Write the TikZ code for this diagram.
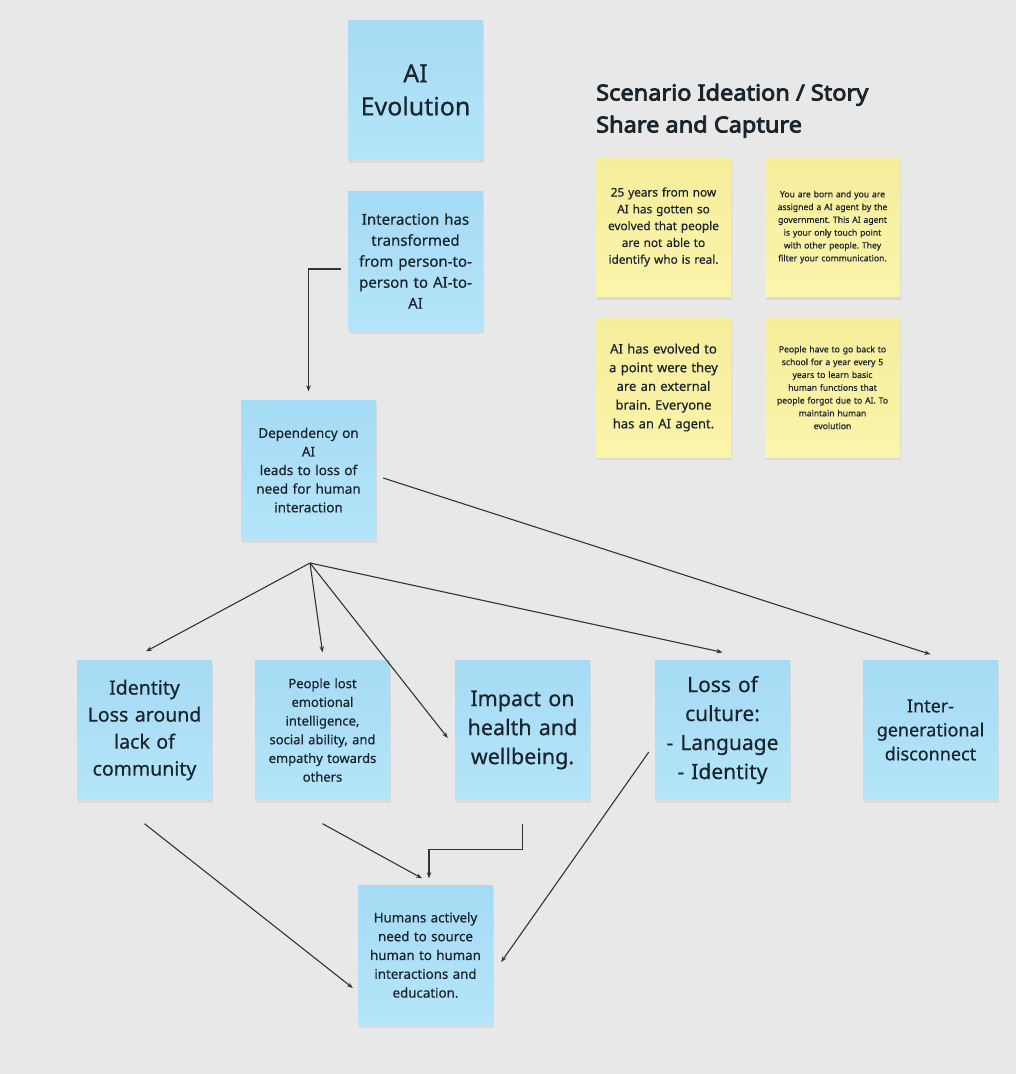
\documentclass[tikz,border=0pt]{standalone}
\usepackage{fontspec}
\setmainfont{Noto Sans}[FakeBold=0.5]
\newfontfamily\headfont{Noto Sans}[FakeBold=3.6, FakeStretch=1.07]
\frenchspacing
\usetikzlibrary{shadows,arrows.meta}
\definecolor{bg}{HTML}{E8E8E8}
\definecolor{bluetop}{HTML}{A6DBF5}
\definecolor{bluebot}{HTML}{B4E5F9}
\definecolor{yeltop}{HTML}{F6EE9C}
\definecolor{yelbot}{HTML}{FBF4AA}
\definecolor{ink}{HTML}{1A242D}
\definecolor{wire}{HTML}{333333}
\begin{document}
\begin{tikzpicture}[x=1pt,y=-1pt,
  note/.style={minimum width=135pt, minimum height=139pt, inner sep=0pt,
    align=center, text width=128pt, text=ink,
    drop shadow={opacity=0.13, shadow xshift=1pt, shadow yshift=-3pt}},
  bluenote/.style={note, top color=bluetop, bottom color=bluebot},
  yelnote/.style={note, top color=yeltop, bottom color=yelbot},
  fs/.style 2 args={font=\fontsize{#1}{#2}\selectfont},
  conn/.style={draw=wire, line width=1.1pt, -{Stealth[length=6pt,width=4.5pt]}}
]
\fill[bg] (0,0) rectangle (1016,1074);
\useasboundingbox (0,0) rectangle (1016,1074);

% blue notes
\node[bluenote, fs={25}{33}] (evo) at (415.5,90) {AI\\Evolution};
\node[bluenote, fs={15}{21}] (inter) at (415.5,261) {Interaction has\\transformed\\from person-to-\\person to AI-to-\\AI};
\node[bluenote, fs={13.5}{18.6}] (dep) at (308.5,470) {Dependency on\\AI\\leads to loss of\\need for human\\interaction};
\node[bluenote, fs={19.5}{27}] (iden) at (144.5,730) {Identity\\Loss around\\lack of\\community};
\node[bluenote, fs={13}{18.7}] (ppl) at (322.5,730) {People lost\\emotional\\intelligence,\\social ability, and\\empathy towards\\others};
\node[bluenote, fs={21.5}{29}] (imp) at (522.5,730) {Impact on\\health and\\wellbeing.};
\node[bluenote, fs={21}{29}] (cul) at (722.5,730) {Loss of\\culture:\\- Language\\- Identity};
\node[bluenote, fs={18}{24}] (gen) at (930.5,730) {Inter-\\generational\\disconnect};
\node[bluenote, fs={13.3}{18.8}] (hum) at (425.5,955) {Humans actively\\need to source\\human to human\\interactions and\\education.};

% heading
\node[anchor=north west, inner sep=0pt, align=left, text=ink, font=\headfont\fontsize{22}{32}\selectfont] (head) at (596,83.5) {Scenario Ideation / Story\\Share and Capture};

% yellow notes
\node[yelnote, fs={11.8}{16.8}] (y1) at (663.5,227) {25 years from now\\AI has gotten so\\evolved that people\\are not able to\\identify who is real.};
\node[yelnote, fs={8.6}{12.8}] (y2) at (832.5,227) {You are born and you are\\assigned a AI agent by the\\government. This AI agent\\is your only touch point\\with other people. They\\filter your communication.};
\node[yelnote, fs={13}{18.7}] (y3) at (663.5,387.5) {AI has evolved to\\a point were they\\are an external\\brain. Everyone\\has an AI agent.};
\node[yelnote, fs={8.6}{12.8}] (y4) at (832.5,387.5) {People have to go back to\\school for a year every 5\\years to learn basic\\human functions that\\people forgot due to AI. To\\maintain human\\evolution};

% connectors
\coordinate (c1) at (341,269);
\draw[conn, shorten >=9pt] (c1) -| (dep.north);
\draw[conn] ([shift={(7,8)}]dep.east) -- ([yshift=6pt]gen.north);

\coordinate (hub) at (310,563);
\draw[conn] (hub) -- ([shift={(1.5,-9)}]iden.north);
\draw[conn] (hub) -- ([yshift=8pt]ppl.north);
\draw[conn] (hub) -- ([shift={(-7,8)}]imp.west);
\draw[conn] (hub) -- ([yshift=8pt]cul.north);

\draw[conn] ([yshift=-24pt]iden.south) -- ([shift={(-5,33)}]hum.west);
\draw[conn] ([yshift=-24pt]ppl.south) -- ([shift={(-3.5,-7)}]hum.north);
\draw[conn] ([yshift=-24pt]imp.south) -- ++(0,26) -| ([shift={(3.5,-7)}]hum.north);
\draw[conn] ([shift={(-6,22)}]cul.west) -- ([shift={(8,7)}]hum.east);
\end{tikzpicture}
\end{document}
